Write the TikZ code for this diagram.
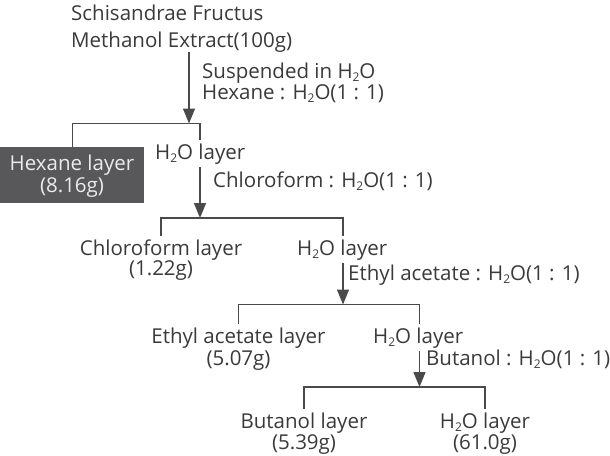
\documentclass[tikz,border=0pt]{standalone}
\usepackage{fontspec}
\setmainfont{Open Sans}
\usetikzlibrary{arrows.meta}
\newcommand{\wat}{H\raisebox{-0.35ex}{\fontsize{12}{12}\selectfont 2}O}
\definecolor{txt}{HTML}{3A3A3A}
\definecolor{ln}{HTML}{4A4A4A}
\definecolor{boxc}{HTML}{58585A}
\tikzset{
  lbl/.style={inner sep=0pt, text=txt, font=\fontsize{20.5}{24}\selectfont},
  lblw/.style={lbl, anchor=base west},
  lblc/.style={lbl, anchor=base},
  wlay/.style={lbl, anchor=base west, inner ysep=3pt},
  conn/.style={draw=ln, line width=1.4pt},
  arr/.style={conn, -{Triangle[width=12pt,length=15pt]}},
}
\begin{document}
\begin{tikzpicture}[x=1pt,y=-1pt]
\useasboundingbox (0,0) rectangle (610,455);
% level 0
\node[lblw] (src1) at (71,20) {Schisandrae Fructus};
\node[lblw] (src2) at (71,47) {Methanol Extract(100g)};
\node[lblw] (c1a) at (202,78) {Suspended in \wat};
\node[lblw] (c1b) at (202,99) {Hexane : \wat(1 : 1)};
\coordinate (a1) at (189,123.5);
\coordinate (j1) at (200,123.5);
% level 1
\node[fill=boxc, minimum width=144pt, minimum height=56pt, inner sep=0pt, anchor=north west] (hex) at (0,147) {};
\node[lblc, text=white!92!black] (hex1) at (72,170) {Hexane layer};
\node[lblc, text=white!92!black] (hex2) at (72,192) {(8.16g)};
\node[wlay] (w1) at (155,159) {\wat\ layer};
\node[lblw] (c2) at (213,187) {Chloroform : \wat(1 : 1)};
\coordinate (a2) at (200,218);
\coordinate (j2) at (343,218);
% level 2
\node[lblc, inner ysep=3pt] (cf1) at (161,255) {Chloroform layer};
\node[lblc] (cf2) at (161,275) {(1.22g)};
\node[wlay] (w2) at (297,255) {\wat\ layer};
\node[lblw] (c3) at (348,280) {Ethyl acetate : \wat(1 : 1)};
\coordinate (a3) at (343,304.5);
\coordinate (j3) at (419.5,304.5);
% level 3
\node[lblc, inner ysep=3pt] (ea1) at (238.5,343) {Ethyl acetate layer};
\node[lblc] (ea2) at (238.5,365) {(5.07g)};
\node[wlay] (w3) at (373,343) {\wat\ layer};
\node[lblw] (c4) at (426,365) {Butanol : \wat(1 : 1)};
\coordinate (a4) at (419.5,387);
% level 4
\node[lblc, inner ysep=3pt] (bu1) at (304,428) {Butanol layer};
\node[lblc] (bu2) at (304,449) {(5.39g)};
\node[lblc, inner ysep=3pt] (wl1) at (485,428) {\wat\ layer};
\node[lblc] (wl2) at (485,449) {(61.0g)};
% connectors
\draw[arr] (src2.south -| a1) -- (a1);
\draw[conn] (hex.north) |- (j1) -- (j1 |- w1.north);
\draw[arr] (j1 |- w1.south) -- (a2);
\draw[conn] (cf1.north) |- (j2) -- (j2 |- w2.north);
\draw[arr] (j2 |- w2.south) -- (a3);
\draw[conn] (ea1.north) |- (j3) -- (j3 |- w3.north);
\draw[arr] (j3 |- w3.south) -- (a4);
\draw[conn] (bu1.north) |- (a4) -| (wl1.north);
\end{tikzpicture}
\end{document}
